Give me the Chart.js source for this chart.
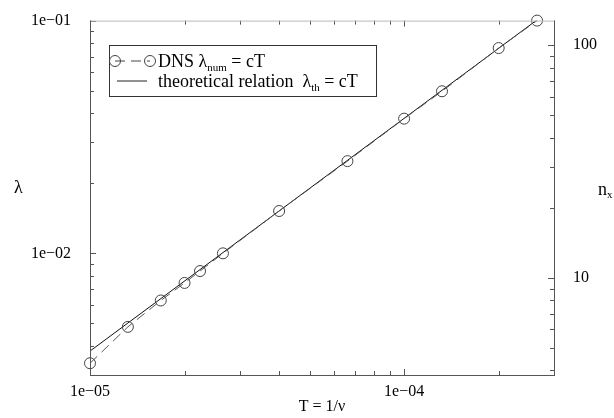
<!DOCTYPE html>
<html>
<head>
<meta charset="utf-8">
<script src="https://cdn.jsdelivr.net/npm/chart.js@4.4.0/dist/chart.umd.min.js"></script>
<style>
  html, body { margin: 0; padding: 0; background: #fff; }
  canvas { display: block; }
</style>
</head>
<body>
<canvas id="chart" width="614" height="418"></canvas>
<script>
// DNS samples: period T and measured wavelength
const periodT = [1e-5, 1.32e-5, 1.68e-5, 2e-5, 2.24e-5, 2.65e-5, 4e-5, 6.6e-5, 1e-4, 1.32e-4, 2e-4, 2.65e-4];
const lambdaNum = [3.37e-3, 4.83e-3, 6.27e-3, 7.46e-3, 8.39e-3, 1.0e-2, 1.52e-2, 2.49e-2, 3.79e-2, 4.97e-2, 7.62e-2, 0.1];
// theoretical relation lambda = cT (end points)
const theoryT = [1e-5, 2.63e-4];
const lambdaTh = [3.8e-3, 0.1];

// tick values
const xTicks = [1e-5, 2e-5, 3e-5, 4e-5, 5e-5, 6e-5, 7e-5, 8e-5, 9e-5, 1e-4, 2e-4, 3e-4];
const yTicks = [3e-3, 4e-3, 5e-3, 6e-3, 7e-3, 8e-3, 9e-3, 1e-2, 2e-2, 3e-2, 4e-2, 5e-2, 6e-2, 7e-2, 8e-2, 9e-2, 1e-1];
const nxTicks = [4, 5, 6, 7, 8, 9, 10, 20, 30, 40, 50, 60, 70, 80, 90, 100];
const xMajor = [1e-5, 1e-4];
const xMajorLabels = ['1e\u221205', '1e\u221204'];
const yMajor = [1e-2, 1e-1];
const yMajorLabels = ['1e\u221202', '1e\u221201'];
const nxMajor = [10, 100];
const nxMajorLabels = ['10', '100'];

const serif = "'Liberation Serif', 'DejaVu Serif', serif";

function isMajor(list, v) {
  return list.findIndex(m => Math.abs(m - v) / m < 1e-6);
}
function labeler(list, labels) {
  return (value) => {
    const i = isMajor(list, value);
    return i >= 0 ? labels[i] : '';
  };
}
function setTicks(values) {
  return (scale) => {
    scale.ticks = values.map(v => ({ value: v }));
  };
}

const ctx = document.getElementById('chart').getContext('2d');

const frameTicks = {
  id: 'frameTicks',
  afterDatasetsDraw: (chart) => {
    const { ctx, chartArea: { left, right, top, bottom }, scales } = chart;
    const seg = (x1, y1, x2, y2) => {
      ctx.beginPath();
      ctx.moveTo(x1, y1);
      ctx.lineTo(x2, y2);
      ctx.stroke();
    };
    ctx.save();
    ctx.lineWidth = 1;
    ctx.strokeStyle = '#555';

    scales.x.ticks.forEach(t => {
      const px = Math.round(scales.x.getPixelForValue(t.value)) + 0.5;
      const len = isMajor(xMajor, t.value) >= 0 ? 6 : 4;
      seg(px, bottom, px, bottom - len);
      seg(px, top, px, top + len);
    });
    scales.y.ticks.forEach(t => {
      const py = Math.round(scales.y.getPixelForValue(t.value)) + 0.5;
      const len = isMajor(yMajor, t.value) >= 0 ? 6 : 4;
      seg(left, py, left + len, py);
    });
    scales.y2.ticks.forEach(t => {
      const py = Math.round(scales.y2.getPixelForValue(t.value)) + 0.5;
      const len = isMajor(nxMajor, t.value) >= 0 ? 6 : 4;
      seg(right, py, right - len, py);
    });

    // frame
    ctx.strokeStyle = '#bbb';
    seg(left, top + 0.5, right, top + 0.5);
    ctx.strokeStyle = '#555';
    seg(left + 0.5, top, left + 0.5, bottom);
    seg(left, bottom + 0.5, right, bottom + 0.5);
    seg(right + 0.5, top, right + 0.5, bottom + 1);

    // axis titles (not rotated)
    ctx.fillStyle = '#000';
    ctx.textBaseline = 'middle';
    ctx.font = '18px ' + serif;
    ctx.fillText('\u03bb', 14, 188);
    ctx.fillText('n', 598, 190);
    ctx.font = '11px ' + serif;
    ctx.fillText('x', 607, 195);

    // legend box
    const bx = 109, by = 45, bw = 267, bh = 51;
    ctx.fillStyle = '#fff';
    ctx.fillRect(bx, by, bw, bh);
    ctx.strokeStyle = '#333';
    ctx.strokeRect(bx + 0.5, by + 0.5, bw, bh);

    // row 1 sample: circles with dashed line
    const r1 = 61, r2 = 81;
    ctx.strokeStyle = '#444';
    ctx.setLineDash([10, 6]);
    seg(115, r1, 150, r1);
    ctx.setLineDash([]);
    [115, 150].forEach(cx => {
      ctx.beginPath();
      ctx.arc(cx, r1, 5.5, 0, Math.PI * 2);
      ctx.stroke();
    });
    // row 2 sample: solid line
    ctx.strokeStyle = '#222';
    seg(117, r2, 147, r2);

    // legend text with subscripts
    const pieces = (x, y, parts) => {
      parts.forEach(([txt, size, dy]) => {
        ctx.font = size + 'px ' + serif;
        ctx.fillText(txt, x, y + dy);
        x += ctx.measureText(txt).width;
      });
    };
    ctx.fillStyle = '#000';
    ctx.textBaseline = 'alphabetic';
    pieces(158, r1 + 6, [['DNS \u03bb', 18, 0], ['num', 11, 4], [' = cT', 18, 0]]);
    pieces(158, r2 + 6, [['theoretical relation  \u03bb', 18, 0], ['th', 11, 4], [' = cT', 18, 0]]);

    ctx.restore();
  }
};

new Chart(ctx, {
  type: 'scatter',
  data: {
    datasets: [{
      label: 'DNS',
      data: periodT.map((t, i) => ({ x: t, y: lambdaNum[i] })),
      showLine: true,
      borderColor: '#555',
      borderWidth: 1,
      borderDash: [10, 6],
      pointRadius: 5.5,
      pointStyle: 'circle',
      pointBackgroundColor: 'rgba(0,0,0,0)',
      pointBorderColor: '#444',
      pointBorderWidth: 1,
      clip: false,
      yAxisID: 'y',
    }, {
      label: 'theory',
      data: theoryT.map((t, i) => ({ x: t, y: lambdaTh[i] })),
      showLine: true,
      borderColor: '#111',
      borderWidth: 1,
      pointRadius: 0,
      yAxisID: 'y',
    }]
  },
  options: {
    responsive: false,
    animation: false,
    layout: { padding: { top: 15, left: 0, right: 0, bottom: 0 } },
    plugins: {
      legend: { display: false },
      tooltip: { enabled: false },
    },
    scales: {
      x: {
        type: 'logarithmic',
        position: 'bottom',
        min: 1e-5,
        max: 3e-4,
        afterBuildTicks: setTicks(xTicks),
        afterFit: (s) => { s.height = 43; },
        grid: { display: false },
        border: { display: false },
        ticks: {
          autoSkip: false,
          maxRotation: 0,
          padding: -1,
          color: '#000',
          font: { family: serif, size: 16 },
          callback: labeler(xMajor, xMajorLabels),
        },
        title: {
          display: true,
          text: 'T = 1/\u03bd',
          color: '#000',
          font: { family: serif, size: 16 },
          padding: { top: 0, bottom: 2 },
        },
      },
      y: {
        type: 'logarithmic',
        position: 'left',
        min: 3e-3,
        max: 0.1,
        afterBuildTicks: setTicks(yTicks),
        afterFit: (s) => { s.width = 90; },
        grid: { display: false },
        border: { display: false },
        ticks: {
          autoSkip: false,
          padding: 11,
          color: '#000',
          font: { family: serif, size: 16 },
          callback: labeler(yMajor, yMajorLabels),
        },
      },
      y2: {
        type: 'logarithmic',
        position: 'right',
        min: 3.825,
        max: 127.5,
        afterBuildTicks: setTicks(nxTicks),
        afterFit: (s) => { s.width = 60; },
        grid: { display: false },
        border: { display: false },
        ticks: {
          autoSkip: false,
          padding: 11,
          color: '#000',
          font: { family: serif, size: 16 },
          callback: labeler(nxMajor, nxMajorLabels),
        },
      },
    },
  },
  plugins: [frameTicks],
});
</script>
</body>
</html>
